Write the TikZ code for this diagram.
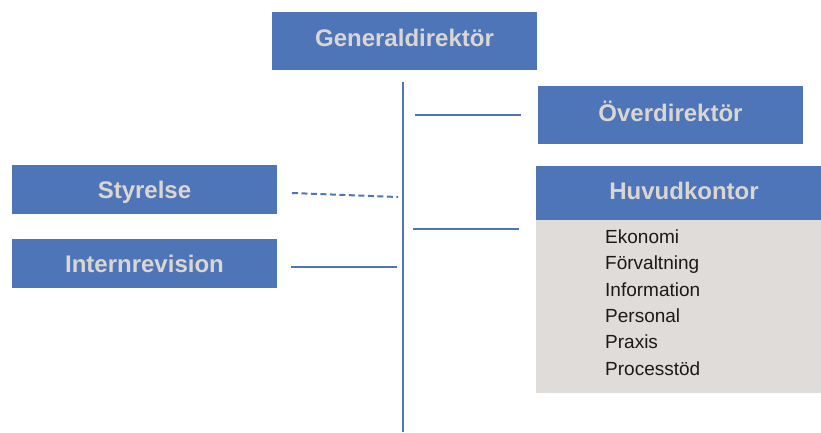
\documentclass[tikz,border=0pt]{standalone}
\usepackage{fontspec}
\setmainfont{Liberation Sans}
\definecolor{boxblue}{HTML}{4E75B8}
\definecolor{titlegray}{HTML}{DAD6D2}
\definecolor{bodygray}{HTML}{E0DCD9}
\definecolor{bodytext}{HTML}{1A1A1A}
\begin{document}
\begin{tikzpicture}[x=1pt,y=-1pt,
  titlebox/.style={fill=boxblue,draw=none,inner sep=0pt,minimum width=265pt,
    font=\fontsize{24}{28}\selectfont\bfseries,text=titlegray,
    text height=17.2pt,text depth=0pt},
  conn/.style={draw=boxblue,line width=2pt},
  dashconn/.style={draw=boxblue,line width=2pt,dash pattern=on 6pt off 3.5pt},
  item/.style={anchor=base west,inner sep=0pt,font=\fontsize{19}{22}\selectfont,text=bodytext}]
\clip (0,0) rectangle (821,432);
\fill[white] (0,0) rectangle (821,432);
% boxes
\node[titlebox,minimum height=58pt] (gen) at (404.5,41) {\raisebox{3.5pt}{Generaldirektör}};
\node[titlebox,minimum height=58pt] (over) at (670.5,115) {\raisebox{2pt}{Överdirektör}};
\node[titlebox,minimum width=296pt,minimum height=54pt] (huv) at (684,193) {\raisebox{1.7pt}{Huvudkontor}};
\node[fill=bodygray,inner sep=0pt,minimum width=296pt,minimum height=173pt,anchor=north] (body) at (huv.south) {};
\node[titlebox,minimum height=49pt] (sty) at (144.5,189.5) {\raisebox{-0.8pt}{Styrelse}};
\node[titlebox,minimum height=49pt] (intr) at (144.5,263.5) {\raisebox{-0.7pt}{Internrevision}};
% list
\node[item] (i1) at (605,243.3) {Ekonomi};
\node[item] (i2) at (605,269.7) {Förvaltning};
\node[item] (i3) at (605,296.1) {Information};
\node[item] (i4) at (605,322.5) {Personal};
\node[item] (i5) at (605,348.9) {Praxis};
\node[item] (i6) at (605,375.3) {Processtöd};
% connector ends
\coordinate (spinetop) at (403,82);
\coordinate (spinebot) at (403,432);
\coordinate (overL) at (415,115);
\coordinate (overR) at (520.5,115);
\coordinate (huvL) at (413,229);
\coordinate (huvR) at (519,229);
\coordinate (styL) at (292,193);
\coordinate (styR) at (398,197);
\coordinate (intL) at (291,267);
\coordinate (intR) at (397,267);
% connectors
\draw[conn,line width=2.4pt] (spinetop) -- (spinebot);
\draw[conn] (overL) -- (overR);
\draw[conn] (huvL) -- (huvR);
\draw[dashconn] (styL) -- (styR);
\draw[conn] (intL) -- (intR);
\end{tikzpicture}
\end{document}
